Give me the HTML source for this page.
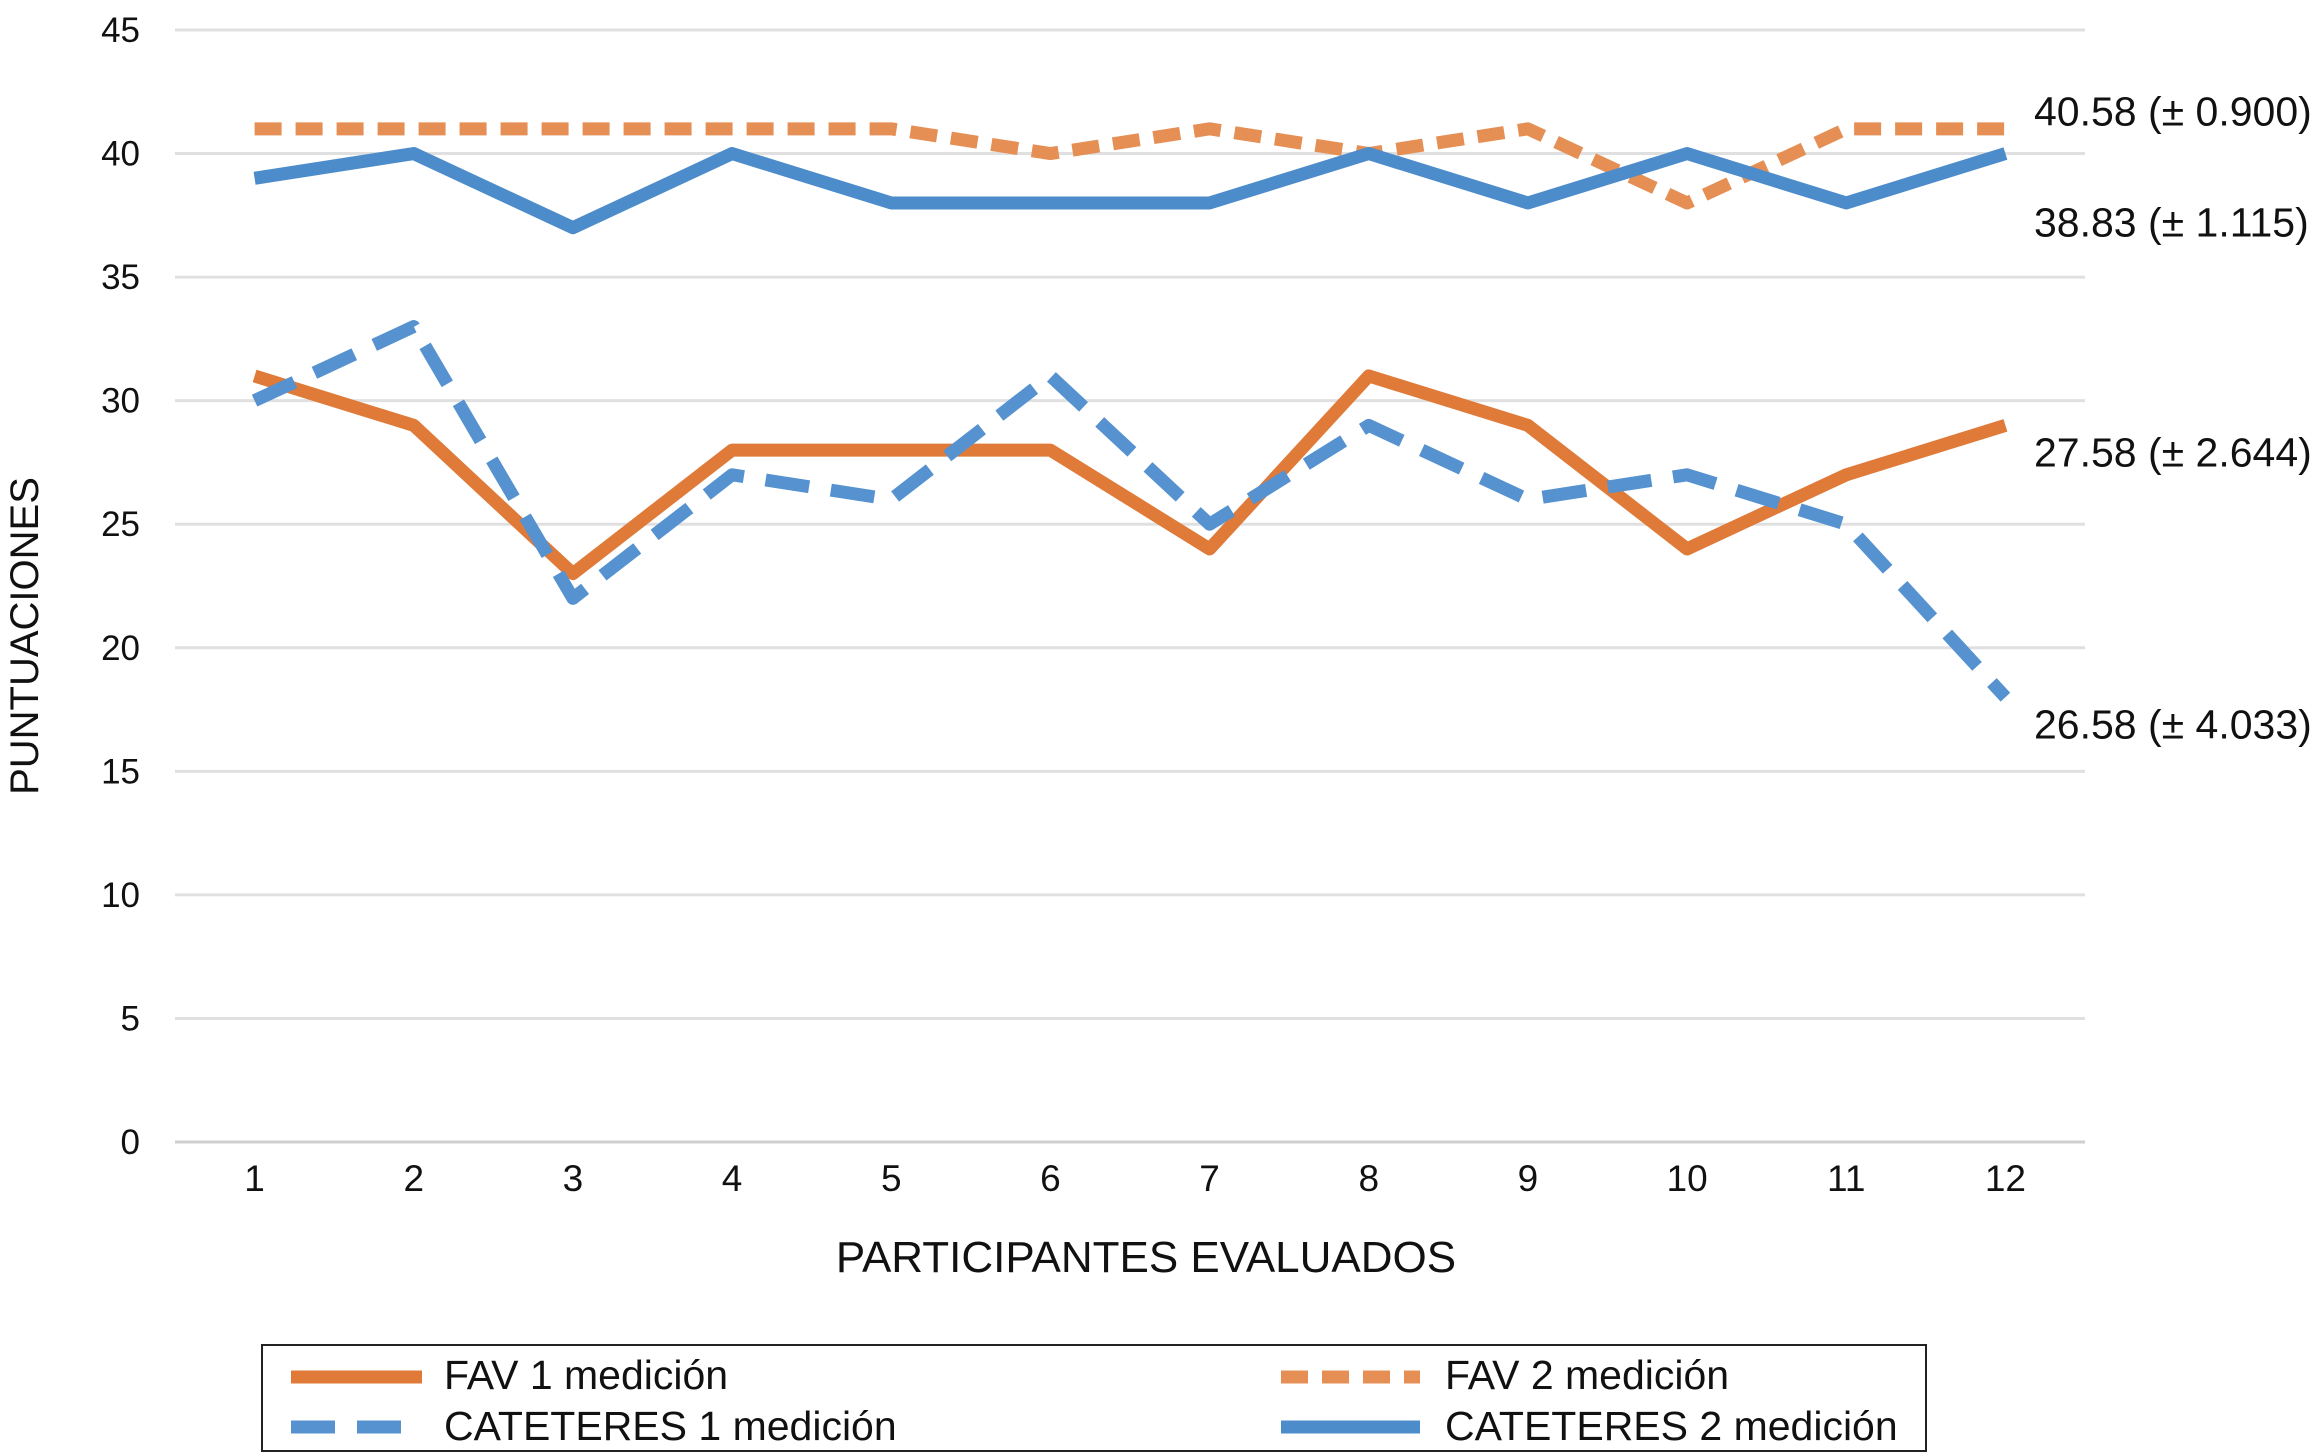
<!DOCTYPE html>
<html><head><meta charset="utf-8"><style>
html,body{margin:0;padding:0;background:#fff;}
svg{display:block;font-family:"Liberation Sans",sans-serif;}
</style></head><body>
<svg id="chart" width="2319" height="1453" viewBox="0 0 2319 1453">
<g id="grid"></g>
<g id="yt"></g>
<g id="xt"></g>
<g id="series"></g>
<g id="ann"></g>
<text x="1146" y="1272" font-size="44" text-anchor="middle" fill="#111">PARTICIPANTES EVALUADOS</text>
<text transform="translate(38,636) rotate(-90)" font-size="40" text-anchor="middle" fill="#111">PUNTUACIONES</text>
<g>
<rect x="262" y="1345" width="1664" height="106" fill="none" stroke="#222" stroke-width="2"/>
<g><line x1="291" y1="1377" x2="422" y2="1377" stroke="#df7a38" stroke-width="13"/><text x="444" y="1389" font-size="41" fill="#111">FAV 1 medición</text></g>
<g><line x1="1281" y1="1377" x2="1420" y2="1377" stroke="#e58f55" stroke-width="13" stroke-dasharray="27 14"/><text x="1445" y="1389" font-size="41" fill="#111">FAV 2 medición</text></g>
<g><line x1="291" y1="1427" x2="422" y2="1427" stroke="#5592cf" stroke-width="13" stroke-dasharray="44 22"/><text x="444" y="1440" font-size="41" fill="#111">CATETERES 1 medición</text></g>
<g><line x1="1281" y1="1427" x2="1420" y2="1427" stroke="#4d8cca" stroke-width="13"/><text x="1445" y="1440" font-size="41" fill="#111">CATETERES 2 medición</text></g>
</g>
</svg>
<script>
const categories=[1,2,3,4,5,6,7,8,9,10,11,12];
const fav1=[31,29,23,28,28,28,24,31,29,24,27,29];
const fav2=[41,41,41,41,41,40,41,40,41,38,41,41];
const cat1=[30,33,22,27,26,31,25,29,26,27,25,18];
const cat2=[39,40,37,40,38,38,38,40,38,40,38,40];
const yTicks=[0,5,10,15,20,25,30,35,40,45];
const endLabels=["40.58 (± 0.900)","38.83 (± 1.115)","27.58 (± 2.644)","26.58 (± 4.033)"];
const endLabelY=[41.7,37.2,27.9,16.9];

const NS="http://www.w3.org/2000/svg";
const L=175,R=2085,T=30,B=1142;
const y=v=>B-(v/45)*(B-T);
const step=(R-L)/categories.length;
const x=i=>L+step*(i+0.5);
function mk(tag,attrs,parent){const e=document.createElementNS(NS,tag);for(const k in attrs)e.setAttribute(k,attrs[k]);parent.appendChild(e);return e;}
const grid=document.getElementById('grid'),yt=document.getElementById('yt'),xt=document.getElementById('xt'),ser=document.getElementById('series'),ann=document.getElementById('ann');
yTicks.forEach(t=>{
  const l=mk('line',{x1:L,x2:R,y1:y(t),y2:y(t),stroke:t===0?'#cfcfcf':'#e0e0e0','stroke-width':3},grid);
  
  
  const tx=mk('text',{x:140,y:y(t)+12,'font-size':35,'text-anchor':'end',fill:'#111'},yt);
  tx.textContent=t;
  
  
});
categories.forEach((c,i)=>{
  const tx=mk('text',{x:x(i),y:1191,'font-size':37,'text-anchor':'middle',fill:'#111'},xt);
  tx.textContent=c;
  
  
});
function line(data,color,dash,name){
  const p=mk('polyline',{points:data.map((v,i)=>x(i)+','+y(v)).join(' '),fill:'none',stroke:color,'stroke-width':13,'stroke-linejoin':'round','stroke-dasharray':dash||'none'},ser);
  
  
}
line(fav2,'#e58f55','27 14','series-fav2');
line(cat2,'#4d8cca',null,'series-cat2');
line(fav1,'#df7a38',null,'series-fav1');
line(cat1,'#5592cf','44 22','series-cat1');
endLabels.forEach((s,i)=>{
  const tx=mk('text',{x:2034,y:y(endLabelY[i])+14,'font-size':41,fill:'#111'},ann);
  tx.textContent=s;
  
  
});
</script>
</body></html>
